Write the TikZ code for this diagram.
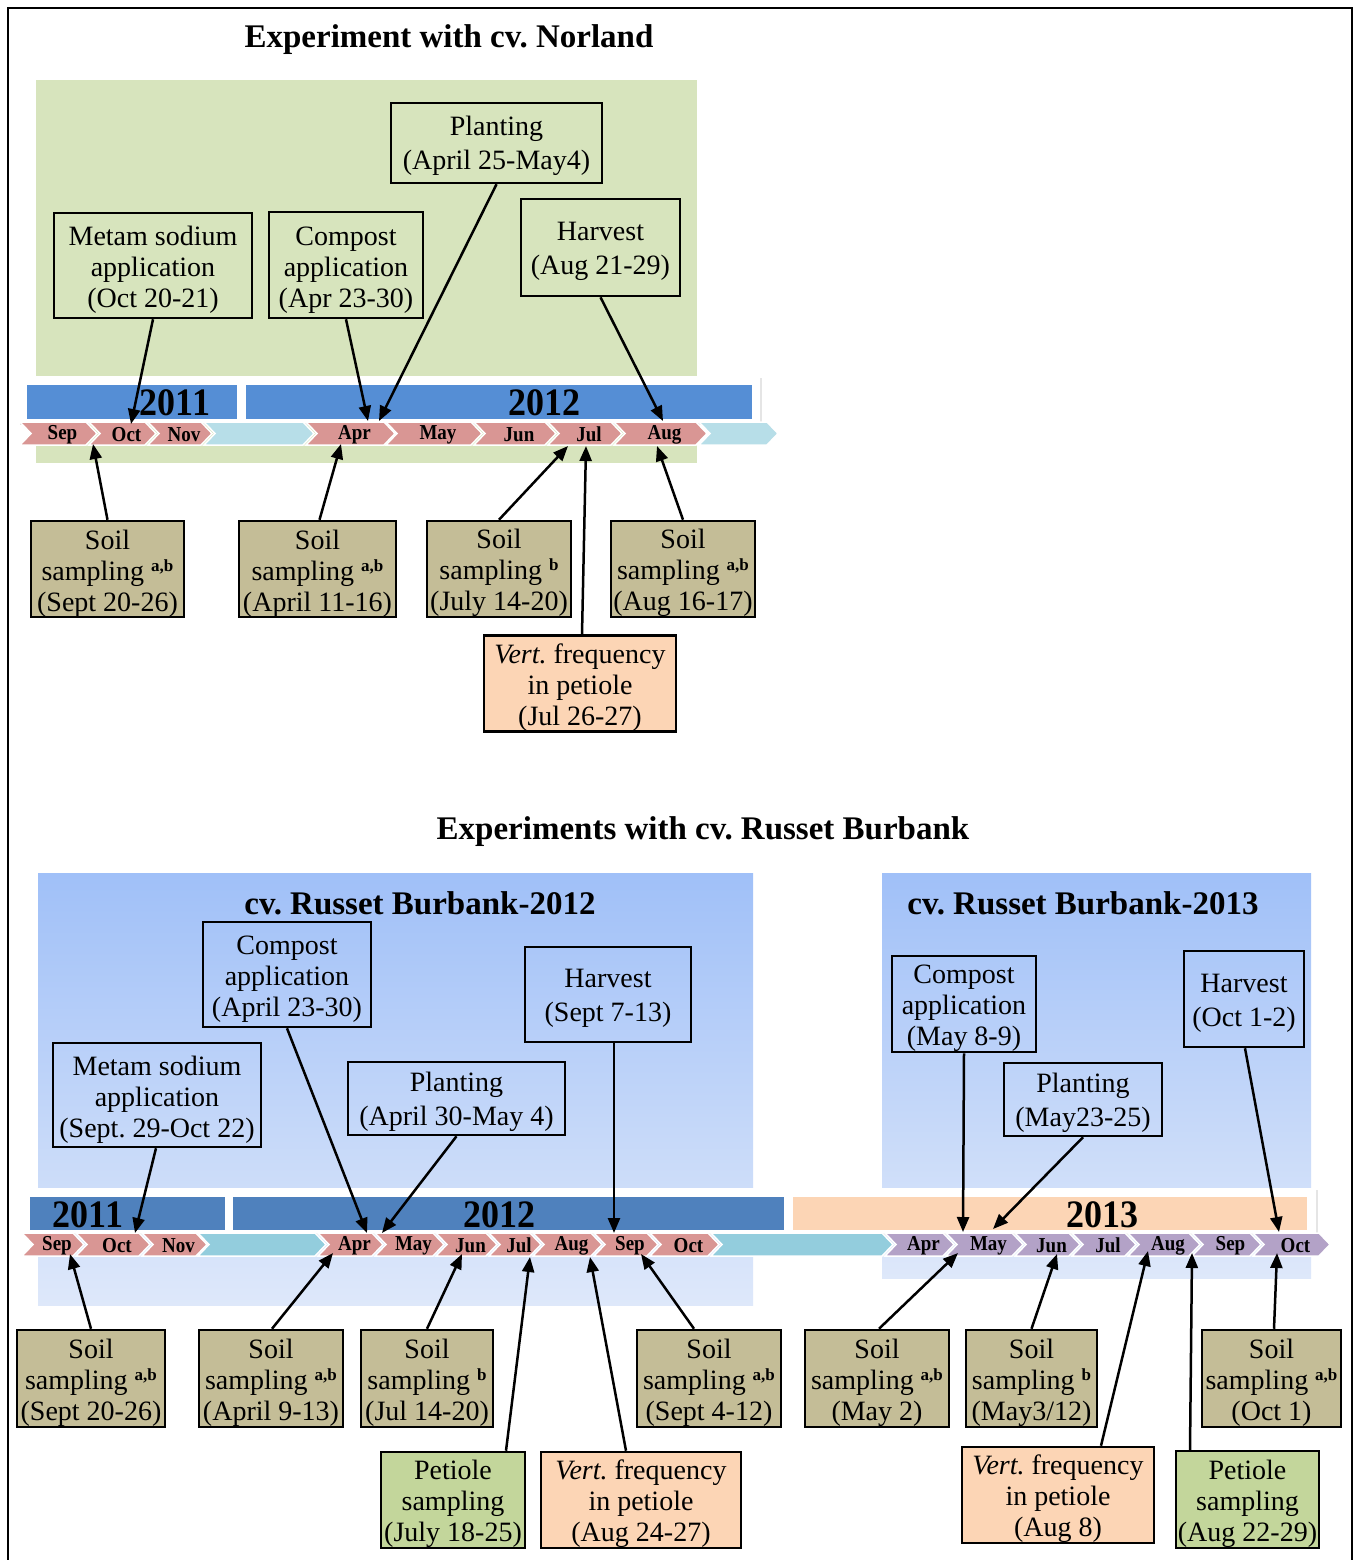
\documentclass[tikz,border=0pt]{standalone}
\usepackage{fontspec}
\setmainfont{Liberation Serif}
\usetikzlibrary{arrows.meta,calc}
\frenchspacing
\definecolor{normbg}{HTML}{D7E4BD}
\definecolor{soilc}{HTML}{C4BD97}
\definecolor{vertc}{HTML}{FCD5B5}
\definecolor{petc}{HTML}{C3D69B}
\definecolor{pinkc}{HTML}{D99694}
\definecolor{lbtop}{HTML}{B7DEE8}
\definecolor{lbbot}{HTML}{93CDDD}
\definecolor{bartop}{HTML}{558ED5}
\definecolor{barbot}{HTML}{4F81BD}
\definecolor{purpc}{HTML}{B3A2C7}
\definecolor{rbtop}{RGB}{160,192,248}
\definecolor{rbbot}{RGB}{222,232,250}
\newcommand\mysup[1]{\raisebox{9pt}{\fontsize{17}{17}\selectfont\bfseries #1}}
\newcommand\ta{\rule{0pt}{28pt}}
\newcommand\tb{\rule{0pt}{26pt}}
% chevron: xa, xb, ytop, ybot, colour, label
\newcommand\chev[6]{%
  \path[fill=#5,draw=white,line width=1.5pt] (#1,#3) -- (#2-11,#3) -- (#2,{(#3+#4)/2}) -- (#2-11,#4) -- (#1,#4) -- (#1+11,{(#3+#4)/2}) -- cycle;
  \node[monthlab] at ({(#1+#2)/2+4},{(#3+#4)/2+1}) {\scalebox{1}[1.12]{#6}};}
\tikzset{
  box/.style={draw,line width=2.5pt,inner sep=0pt,align=center,font=\fontsize{28}{31}\selectfont},
  box2/.style={box,font=\fontsize{28}{34}\selectfont},
  arr/.style={line width=2.5pt,-{Triangle[length=15pt,width=12pt]}},
  monthlab/.style={font=\fontsize{19}{19}\selectfont\bfseries,inner sep=0pt},
  yearlab/.style={font=\fontsize{36}{36}\selectfont\bfseries,inner sep=0pt},
  title/.style={font=\fontsize{33}{33}\selectfont\bfseries,inner sep=0pt}
}
\begin{document}
\begin{tikzpicture}[x=1pt,y=-1pt]
\useasboundingbox (0,0) rectangle (1357,1560);
\fill[white] (0,0) rectangle (1357,1560);
\draw[line width=1.3pt] (8,8) rectangle (1352,1600);

% ---------------- Norland ----------------
\node[title] (t1) at (449,40) {Experiment with cv. Norland};
\fill[normbg] (36,80) rectangle (697,463);
\fill[black!10] (20,378) rectangle (762,425);
\fill[white] (18,376) rectangle (760,423);
\fill[bartop] (27,385) rectangle (237,419);
\fill[bartop] (246,385) rectangle (752,419);
\node[yearlab] (y11a) at (175,403) {\scalebox{1}[1.08]{2011}};
\node[yearlab] (y12a) at (544,403) {\scalebox{1}[1.08]{2012}};
\chev{20}{97}{422}{445}{pinkc}{Sep}
\chev{89}{156}{422}{445}{pinkc}{Oct}
\chev{148}{212}{422}{445}{pinkc}{Nov}
\chev{204}{314}{422}{445}{lbtop}{}
\chev{306}{395}{422}{445}{pinkc}{Apr}
\chev{386}{482}{422}{445}{pinkc}{May}
\chev{474}{556}{422}{445}{pinkc}{Jun}
\chev{548}{622}{422}{445}{pinkc}{Jul}
\chev{614}{707}{422}{445}{pinkc}{Aug}
\chev{699}{778}{422}{445}{lbtop}{}

\node[box,minimum width=198pt,minimum height=105pt] (nmetam) at (153,265.5) {\ta Metam sodium\\application\\(Oct 20-21)};
\node[box,minimum width=154pt,minimum height=106pt] (ncomp) at (346,265) {\ta Compost\\application\\(Apr 23-30)};
\node[box2,minimum width=211pt,minimum height=80pt] (nplant) at (496.5,143) {\tb Planting\\(April 25-May4)};
\node[box2,minimum width=159pt,minimum height=97pt] (nharv) at (600.5,247.5) {\tb Harvest\\(Aug 21-29)};
\node[box,fill=soilc,minimum width=153pt,minimum height=96pt] (ns1) at (107.5,569) {\ta Soil\\sampling \mysup{a,b}\\(Sept 20-26)};
\node[box,fill=soilc,minimum width=157pt,minimum height=96pt] (ns2) at (317.5,569) {\ta Soil\\sampling \mysup{a,b}\\(April 11-16)};
\node[box,fill=soilc,minimum width=144pt,minimum height=96pt] (ns3) at (499,569) {\ta Soil\\sampling \mysup{b}\\(July 14-20)};
\node[box,fill=soilc,minimum width=144pt,minimum height=96pt] (ns4) at (683,569) {\ta Soil\\sampling \mysup{a,b}\\(Aug 16-17)};
\node[box,fill=vertc,minimum width=192pt,minimum height=95pt] (nvert) at (580,683.5) {\ta\textit{Vert.} frequency\\in petiole\\(Jul 26-27)};

\coordinate (e1) at (131,424);
\coordinate (e2) at (368,421);
\coordinate (e3) at (379,421);
\coordinate (e4) at (663,421);
\coordinate (e5) at (93,444);
\coordinate (e6) at (341,444);
\coordinate (e7) at (568,446);
\coordinate (e8) at (657,446);
\coordinate (e9) at (586,446);
\draw[arr] (nmetam.south) -- (e1);
\draw[arr] (ncomp.south) -- (e2);
\draw[arr] (nplant.south) -- (e3);
\draw[arr] (nharv.south) -- (e4);
\draw[arr] (ns1.north) -- (e5);
\draw[arr] ([xshift=2pt]ns2.north) -- (e6);
\draw[arr] (ns3.north) -- (e7);
\draw[arr] (ns4.north) -- (e8);
\draw[arr] ([xshift=2pt]nvert.north) -- (e9);

% ---------------- Russet Burbank ----------------
\node[title] (t2) at (703,832) {Experiments with cv. Russet Burbank};
\shade[top color=rbtop,bottom color=rbbot] (38,873) rectangle (753,1305);
\shade[top color=rbtop,bottom color=rbbot] (882,873) rectangle (1311,1278);
\node[title] (st1) at (420,903) {cv. Russet Burbank-2012};
\node[title] (st2) at (1083,903) {cv. Russet Burbank-2013};

\fill[black!10] (24,1190) rectangle (792,1235);
\fill[white] (22,1188) rectangle (790,1233);
\fill[black!10] (787,1190) rectangle (1318,1235);
\fill[white] (785,1188) rectangle (1316,1233);
\fill[barbot] (30,1197) rectangle (225,1230);
\fill[barbot] (233,1197) rectangle (784,1230);
\fill[vertc] (793,1197) rectangle (1307,1230);
\node[yearlab] (y11b) at (88,1215) {\scalebox{1}[1.08]{2011}};
\node[yearlab] (y12b) at (499,1215) {\scalebox{1}[1.08]{2012}};
\node[yearlab] (y13b) at (1102,1215) {\scalebox{1}[1.08]{2013}};

\chev{22}{84}{1233}{1256}{pinkc}{Sep}
\chev{76}{150}{1233}{1256}{pinkc}{Oct}
\chev{142}{207}{1233}{1256}{pinkc}{Nov}
\chev{198}{326}{1233}{1256}{lbbot}{}
\chev{318}{383}{1233}{1256}{pinkc}{Apr}
\chev{375}{444}{1233}{1256}{pinkc}{May}
\chev{436}{497}{1233}{1256}{pinkc}{Jun}
\chev{489}{541}{1233}{1256}{pinkc}{Jul}
\chev{533}{602}{1233}{1256}{pinkc}{Aug}
\chev{594}{658}{1233}{1256}{pinkc}{Sep}
\chev{650}{719}{1233}{1256}{pinkc}{Oct}
\chev{711}{893}{1233}{1256}{lbbot}{}
\chev{885}{954}{1233}{1256}{purpc}{Apr}
\chev{946}{1023}{1233}{1256}{purpc}{May}
\chev{1015}{1080}{1233}{1256}{purpc}{Jun}
\chev{1072}{1136}{1233}{1256}{purpc}{Jul}
\chev{1128}{1200}{1233}{1256}{purpc}{Aug}
\chev{1192}{1261}{1233}{1256}{purpc}{Sep}
\chev{1253}{1330}{1233}{1256}{purpc}{Oct}

\node[box,minimum width=168pt,minimum height=105pt] (bcomp) at (287,974.5) {\ta Compost\\application\\(April 23-30)};
\node[box,minimum width=208pt,minimum height=104pt] (bmetam) at (157,1095) {\ta Metam sodium\\application\\(Sept. 29-Oct 22)};
\node[box2,minimum width=217pt,minimum height=73pt] (bplant) at (456.5,1098.5) {\tb Planting\\(April 30-May 4)};
\node[box2,minimum width=166pt,minimum height=95pt] (bharv) at (608,994.5) {\tb Harvest\\(Sept 7-13)};
\node[box,minimum width=144pt,minimum height=94pt] (ccomp) at (964,1004) {\ta Compost\\application\\(May 8-9)};
\node[box2,minimum width=158pt,minimum height=73pt] (cplant) at (1083,1099.5) {\tb Planting\\(May23-25)};
\node[box2,minimum width=120pt,minimum height=96pt] (charv) at (1244,999) {\tb Harvest\\(Oct 1-2)};

\node[box,fill=soilc,minimum width=148pt,minimum height=97pt] (bsA) at (91,1378.5) {\ta Soil\\sampling \mysup{a,b}\\(Sept 20-26)};
\node[box,fill=soilc,minimum width=144pt,minimum height=97pt] (bsB) at (271,1378.5) {\ta Soil\\sampling \mysup{a,b}\\(April 9-13)};
\node[box,fill=soilc,minimum width=132pt,minimum height=97pt] (bsC) at (427,1378.5) {\ta Soil\\sampling \mysup{b}\\(Jul 14-20)};
\node[box,fill=soilc,minimum width=144pt,minimum height=97pt] (bsD) at (709,1378.5) {\ta Soil\\sampling \mysup{a,b}\\(Sept 4-12)};
\node[box,fill=petc,minimum width=144pt,minimum height=96pt] (bpet) at (453,1500) {\ta Petiole\\sampling\\(July 18-25)};
\node[box,fill=vertc,minimum width=200pt,minimum height=96pt] (bvert) at (641,1500) {\ta\textit{Vert.} frequency\\in petiole\\(Aug 24-27)};
\node[box,fill=soilc,minimum width=144pt,minimum height=97pt] (csE) at (877,1378.5) {\ta Soil\\sampling \mysup{a,b}\\(May 2)};
\node[box,fill=soilc,minimum width=131pt,minimum height=97pt] (csF) at (1031.5,1378.5) {\ta Soil\\sampling \mysup{b}\\(May3/12)};
\node[box,fill=soilc,minimum width=139pt,minimum height=97pt] (csG) at (1271.5,1378.5) {\ta Soil\\sampling \mysup{a,b}\\(Oct 1)};
\node[box,fill=vertc,minimum width=192pt,minimum height=96pt] (cvert) at (1058,1495) {\ta\textit{Vert.} frequency\\in petiole\\(Aug 8)};
\node[box,fill=petc,minimum width=143pt,minimum height=97pt] (cpet) at (1247.5,1499.5) {\ta Petiole\\sampling\\(Aug 22-29)};

\coordinate (f10) at (367,1233);
\coordinate (f11) at (135,1233);
\coordinate (f12) at (382,1233);
\coordinate (f13) at (614,1233);
\coordinate (f14) at (963,1232);
\coordinate (f15) at (993,1229);
\coordinate (f16) at (1279,1232);
\coordinate (f17) at (70,1254);
\coordinate (f18) at (333,1253);
\coordinate (f19) at (462,1254);
\coordinate (f20) at (641,1254);
\coordinate (f21) at (530,1257);
\coordinate (f22) at (590,1257);
\coordinate (f23) at (958,1253);
\coordinate (f24) at (1057,1254);
\coordinate (f25) at (1277,1253);
\coordinate (f26) at (1148,1251);
\coordinate (f27) at (1192,1253);
\draw[arr] (bcomp.south) -- (f10);
\draw[arr] ([xshift=-1pt]bmetam.south) -- (f11);
\draw[arr] (bplant.south) -- (f12);
\draw[arr] ([xshift=6pt]bharv.south) -- (f13);
\draw[arr] (ccomp.south) -- (f14);
\draw[arr] (cplant.south) -- (f15);
\draw[arr] ([xshift=1pt]charv.south) -- (f16);
\draw[arr] (bsA.north) -- (f17);
\draw[arr] ([xshift=1pt]bsB.north) -- (f18);
\draw[arr] (bsC.north) -- (f19);
\draw[arr] ([xshift=-15pt]bsD.north) -- (f20);
\draw[arr] ([xshift=53pt]bpet.north) -- (f21);
\draw[arr] ([xshift=-15pt]bvert.north) -- (f22);
\draw[arr] ([xshift=2pt]csE.north) -- (f23);
\draw[arr] (csF.north) -- (f24);
\draw[arr] ([xshift=2.5pt]csG.north) -- (f25);
\draw[arr] ([xshift=43pt]cvert.north) -- (f26);
\draw[arr] ([xshift=-57.5pt]cpet.north) -- (f27);
\end{tikzpicture}
\end{document}
